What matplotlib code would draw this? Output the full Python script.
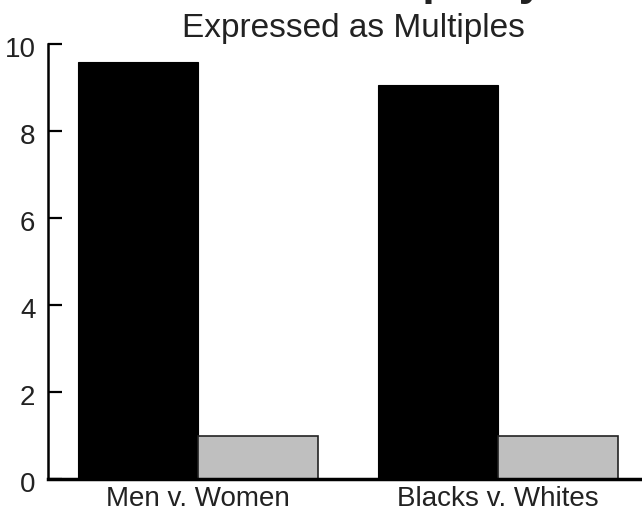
import matplotlib
matplotlib.use('Agg')
import matplotlib.pyplot as plt
import matplotlib.transforms as mtransforms
import numpy as np

plt.rcParams['font.family'] = ['Liberation Sans', 'DejaVu Sans']

categories = ['Men v. Women', 'Blacks v. Whites']
higher_group = [9.59, 9.06]   # black bars
reference_group = [1.0, 1.0]  # grey bars
yticks = [0, 2, 4, 6, 8, 10]

fig = plt.figure(figsize=(6.42, 5.12), dpi=100)
ax = fig.add_axes([48 / 642, 33 / 512, 594 / 642, 435 / 512])

x = np.arange(len(categories))
w = 0.4
ax.bar(x - w / 2, higher_group, width=w, color='black', edgecolor='black', linewidth=0.8)
ax.bar(x + w / 2, reference_group, width=w, color='#bfbfbf', edgecolor='#222222', linewidth=1.2)

ax.set_xlim(-0.5, 1.48)
ax.set_ylim(0, 10)
ax.set_yticks(yticks)
ax.set_yticklabels([str(t) for t in yticks], fontsize=20, color='#222222')
ax.set_xticks(x)
ax.set_xticklabels(categories, fontsize=20, color='#222222')
ax.tick_params(axis='x', length=0, pad=5)
ax.tick_params(axis='y', direction='in', length=10, width=1.6, pad=9)

# labels sit a little lower than their ticks in the original
shift = mtransforms.ScaledTranslation(0, -3 / 100, fig.dpi_scale_trans)
for lab in ax.get_yticklabels():
    lab.set_transform(lab.get_transform() + shift)

ax.spines['top'].set_visible(False)
ax.spines['right'].set_visible(False)
ax.spines['left'].set_linewidth(1.8)
ax.spines['bottom'].set_linewidth(2.5)

# main title is cut off at the top of the picture, only its bottom shows
fig.text(0.535, 1 + 4.5 / 512, 'Sentence Disparity', fontsize=32, fontweight='bold',
         ha='center', va='baseline', color='#222222')
fig.text(353 / 642, 1 - 37 / 512, 'Expressed as Multiples', fontsize=24,
         ha='center', va='baseline', color='#222222')

fig.savefig('out.png', dpi=100)
